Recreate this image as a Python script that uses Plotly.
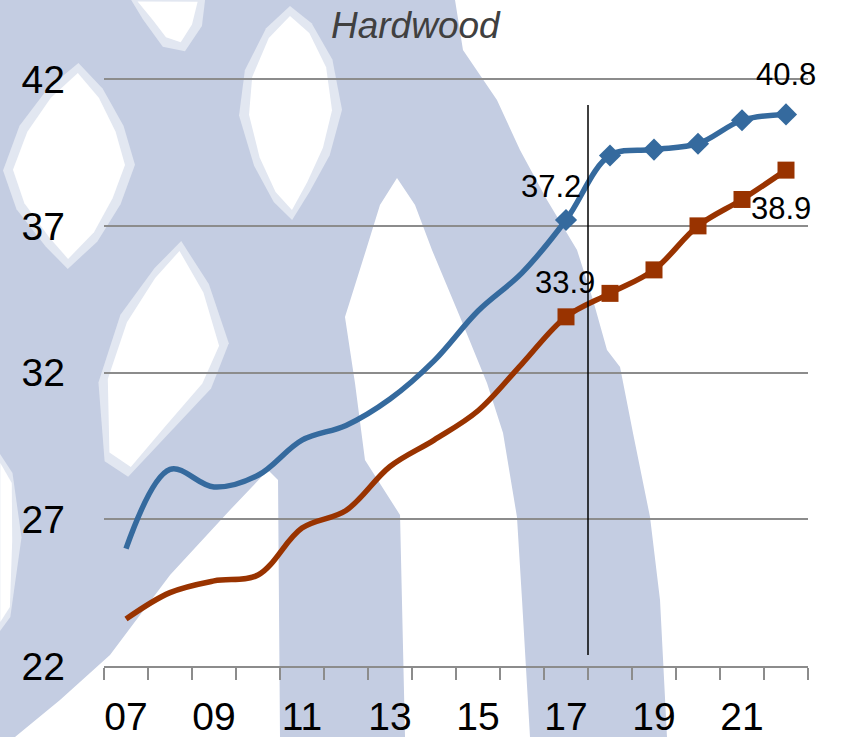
import plotly.graph_objects as go

# ---------------- data ----------------
YEARS = ["07", "08", "09", "10", "11", "12", "13", "14", "15", "16",
         "17", "18", "19", "20", "21", "22"]
TICK_LABELS = ["07", "09", "11", "13", "15", "17", "19", "21"]
BLUE_VALUES = [26.0, 28.7, 28.1, 28.5, 29.7, 30.2, 31.1, 32.4, 34.1, 35.4,
               37.2, 39.4, 39.6, 39.8, 40.6, 40.8]
RED_VALUES = [23.6, 24.5, 24.9, 25.1, 26.7, 27.3, 28.8, 29.7, 30.7, 32.3,
              33.9, 34.7, 35.5, 37.0, 37.9, 38.9]
MARKER_START = "17"          # markers drawn from this year on
DIVIDER_AFTER = "17"         # vertical divider after this year
Y_TICKS = [22, 27, 32, 37, 42]
Y_RANGE = [22, 42.04]
TITLE = "Hardwood"

# ---------------- style ----------------
BLUE = "#356a9e"
RED = "#993300"
GRID = "#8c8c8c"
WM = "#c4cde2"
WM_SOFT = "#e2e7f1"
FONT = "Liberation Sans, Arial, sans-serif"

W, H = 843, 737
ML, MR, MT, MB = 104, 35, 78, 71
PW, PH = W - ML - MR, H - MT - MB

x_idx = list(range(len(YEARS)))
m0 = YEARS.index(MARKER_START)

fig = go.Figure()
fig.add_trace(go.Scatter(x=x_idx, y=BLUE_VALUES, mode="lines",
                         line=dict(color=BLUE, width=5.5, shape="spline", smoothing=1),
                         hoverinfo="skip", showlegend=False))
fig.add_trace(go.Scatter(x=x_idx, y=RED_VALUES, mode="lines",
                         line=dict(color=RED, width=5.5, shape="spline", smoothing=1),
                         hoverinfo="skip", showlegend=False))
fig.add_trace(go.Scatter(x=x_idx[m0:], y=BLUE_VALUES[m0:], mode="markers",
                         marker=dict(symbol="diamond", size=17, color=BLUE, line=dict(width=0)),
                         showlegend=False))
fig.add_trace(go.Scatter(x=x_idx[m0:], y=RED_VALUES[m0:], mode="markers",
                         marker=dict(symbol="square", size=17, color=RED, line=dict(width=0)),
                         showlegend=False))

# data labels
label_specs = [
    (BLUE_VALUES, YEARS.index("17"), -15, 34),
    (RED_VALUES, YEARS.index("17"), -1, 34),
    (BLUE_VALUES, len(YEARS) - 1, 0, 40),
    (RED_VALUES, len(YEARS) - 1, -5, -38),
]
annotations = []
for vals, i, dx, dy in label_specs:
    annotations.append(dict(x=i, y=vals[i], xref="x", yref="y",
                            text=f"{vals[i]:.1f}", showarrow=False,
                            xshift=dx, yshift=dy,
                            font=dict(family=FONT, size=31, color="#000000")))

def px(xp, yp):
    return (xp - ML) / PW, (H - MB - yp) / PH

annotations.append(dict(x=px(416, 0)[0], y=px(0, 25)[1], xref="paper", yref="paper",
                        text=f"<i>{TITLE}</i>", showarrow=False,
                        xanchor="center", yanchor="middle",
                        font=dict(family=FONT, size=37, color="#404040")))

# ---------------- background watermark ----------------
def poly(points, color, grow=0.0):
    cx = sum(p[0] for p in points) / len(points)
    cy = sum(p[1] for p in points) / len(points)
    pts = []
    for a, b in points:
        dx, dy = a - cx, b - cy
        d = max((dx * dx + dy * dy) ** 0.5, 1e-6)
        pts.append(px(a + grow * dx / d, b + grow * dy / d))
    d = "M " + " L ".join(f"{a:.4f},{b:.4f}" for a, b in pts) + " Z"
    return dict(type="path", path=d, xref="paper", yref="paper",
                fillcolor=color, line=dict(width=0), layer="below")

main_blue = [(0, 0), (455, 0), (463, 50), (497, 100), (520, 150), (547, 200),
             (577, 250), (593, 300), (607, 350), (620, 367), (633, 433),
             (650, 517), (660, 600), (667, 737), (530, 737), (522, 600),
             (517, 517), (503, 433), (487, 383), (460, 317), (432, 250),
             (415, 205), (397, 178), (380, 205), (366, 250), (345, 317),
             (355, 383), (365, 460), (400, 515), (405, 737), (280, 737),
             (278, 480), (268, 470), (230, 510), (170, 575), (110, 655),
             (60, 700), (15, 737), (0, 737)]
whites = [
    [(135, 0), (200, 0), (195, 25), (182, 45), (165, 40), (150, 20)],
    [(290, 13), (310, 30), (328, 65), (335, 110), (325, 150), (308, 185),
     (292, 213), (275, 195), (258, 160), (246, 115), (250, 75), (268, 35)],
    [(78, 70), (100, 95), (118, 130), (128, 165), (115, 200), (95, 235),
     (68, 262), (48, 240), (22, 205), (10, 170), (25, 130), (50, 95)],
    [(180, 248), (205, 290), (222, 345), (205, 385), (165, 430), (130, 470),
     (108, 455), (105, 380), (125, 320), (155, 275)],
    [(0, 460), (12, 480), (15, 540), (10, 610), (0, 625)],
]
shapes = [poly(main_blue, WM)]
shapes += [poly(w, WM_SOFT, grow=7) for w in whites]
shapes += [poly(w, "#ffffff", grow=-3) for w in whites]

# vertical divider
div_x = YEARS.index(DIVIDER_AFTER) + 0.5
shapes.append(dict(type="line", xref="x", yref="paper", x0=div_x, x1=div_x,
                   y0=px(0, 655)[1], y1=px(0, 105)[1],
                   line=dict(color="#000000", width=1.5), layer="above"))

fig.update_layout(
    width=W, height=H,
    margin=dict(l=ML, r=MR, t=MT, b=MB, pad=0, autoexpand=False),
    paper_bgcolor="#ffffff", plot_bgcolor="rgba(0,0,0,0)",
    showlegend=False,
    font=dict(family=FONT, color="#000000"),
    annotations=annotations, shapes=shapes,
)
fig.update_xaxes(
    range=[-0.5, len(YEARS) - 0.5], automargin=False,
    tickmode="array",
    tickvals=[YEARS.index(t) for t in TICK_LABELS],
    ticktext=TICK_LABELS,
    ticks="", showgrid=False, zeroline=False,
    showline=True, linecolor=GRID, linewidth=2,
    tickfont=dict(family=FONT, size=39, color="#000000"),
    ticklabelstandoff=15,
    minor=dict(tick0=-0.5, dtick=1, ticks="outside", ticklen=12,
               tickcolor=GRID, tickwidth=1.5, showgrid=False),
)
fig.update_yaxes(
    range=Y_RANGE, tickmode="array", tickvals=Y_TICKS, automargin=False,
    ticks="", showline=False, zeroline=False,
    showgrid=True, gridcolor=GRID, gridwidth=1.5,
    tickfont=dict(family=FONT, size=39, color="#000000"),
    ticklabelstandoff=38,
)

fig.write_html("out.html", config={"displayModeBar": False},
               post_script="document.body.style.margin='0';")
